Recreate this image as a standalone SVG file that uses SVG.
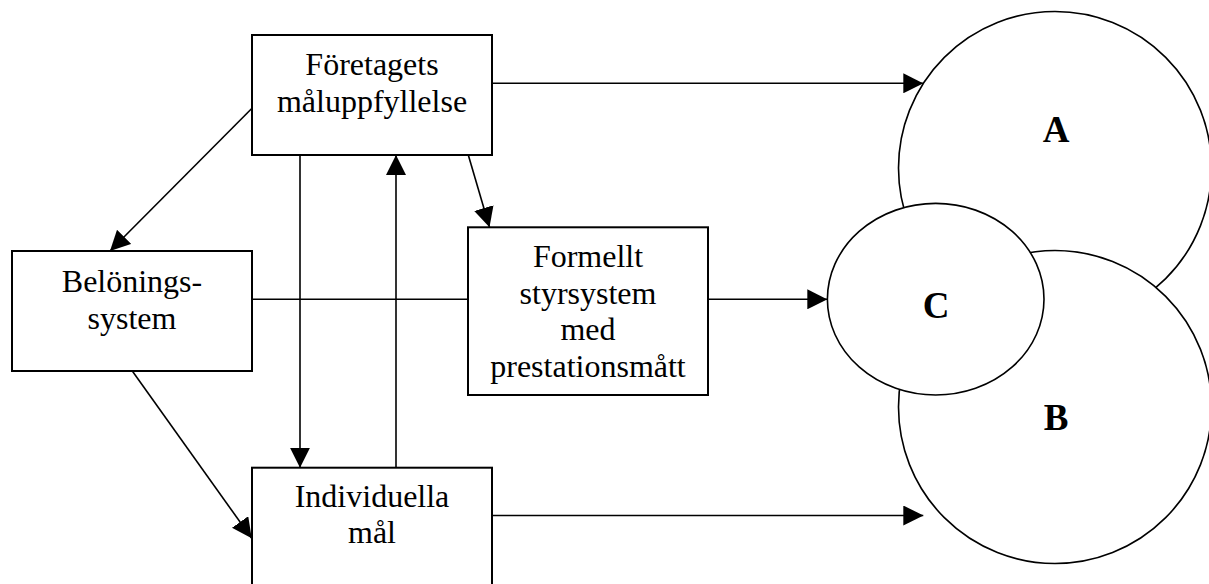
<svg xmlns="http://www.w3.org/2000/svg" width="1209" height="584" viewBox="0 0 1209 584">
<style>
.box{fill:#fff;stroke:#000;stroke-width:2}
.ell{fill:#fff;stroke:#000;stroke-width:1.6}
.t{font-family:"Liberation Serif","Times New Roman",serif;font-size:32px;fill:#000;text-anchor:middle}
.b{font-family:"Liberation Serif","Times New Roman",serif;font-size:37px;font-weight:bold;fill:#000;text-anchor:middle}
.c{stroke:#000;stroke-width:1.6;fill:none}
.a{marker-end:url(#ah)}
</style>
<defs>
<marker id="ah" markerUnits="userSpaceOnUse" markerWidth="20" markerHeight="20" refX="20" refY="10" orient="auto" viewBox="0 0 20 20">
<path d="M0,0 L20,10 L0,20 z" fill="#000"/>
</marker>
</defs>
<rect width="1209" height="584" fill="#fff"/>
<g id="circleA"><circle class="ell" cx="1055" cy="168" r="156.5"/><text class="b" x="1056" y="142">A</text></g>
<g id="circleB"><circle class="ell" cx="1055" cy="407" r="156.5"/><text class="b" x="1056" y="430">B</text></g>
<g id="circleC"><ellipse class="ell" cx="935.7" cy="299.2" rx="108.3" ry="95.8"/><text class="b" x="936" y="317.5">C</text></g>
<g id="connectors">
<line class="c a" x1="492" y1="83.3" x2="923.3" y2="83.3"/>
<line class="c a" x1="252" y1="108.3" x2="110" y2="251"/>
<line class="c a" x1="300" y1="155" x2="300" y2="467.7"/>
<line class="c a" x1="396" y1="467.7" x2="396" y2="155"/>
<line class="c a" x1="468.3" y1="155" x2="489.5" y2="227.3"/>
<line class="c" x1="252" y1="299.3" x2="468" y2="299.3"/>
<line class="c a" x1="708" y1="299.3" x2="827.3" y2="299.3"/>
<line class="c a" x1="132.3" y1="371" x2="251.7" y2="538.3"/>
<line class="c a" x1="492" y1="515.5" x2="923.3" y2="515.5"/>
</g>
<g id="foretagets"><rect class="box" x="252" y="35" width="240" height="120"/><text class="t" x="372" y="75">Företagets</text><text class="t" x="372" y="112">måluppfyllelse</text></g>
<g id="beloning"><rect class="box" x="12" y="251" width="240" height="120"/><text class="t" x="132" y="291.7">Belönings-</text><text class="t" x="132" y="329">system</text></g>
<g id="formellt"><rect class="box" x="468" y="227.3" width="240" height="167.7"/><text class="t" x="588" y="267.3">Formellt</text><text class="t" x="588" y="303.5">styrsystem</text><text class="t" x="588" y="340">med</text><text class="t" x="588" y="376.7">prestationsmått</text></g>
<g id="individuella"><rect class="box" x="252" y="467.7" width="240" height="130"/><text class="t" x="372" y="506.7">Individuella</text><text class="t" x="372" y="543.3">mål</text></g>
</svg>
